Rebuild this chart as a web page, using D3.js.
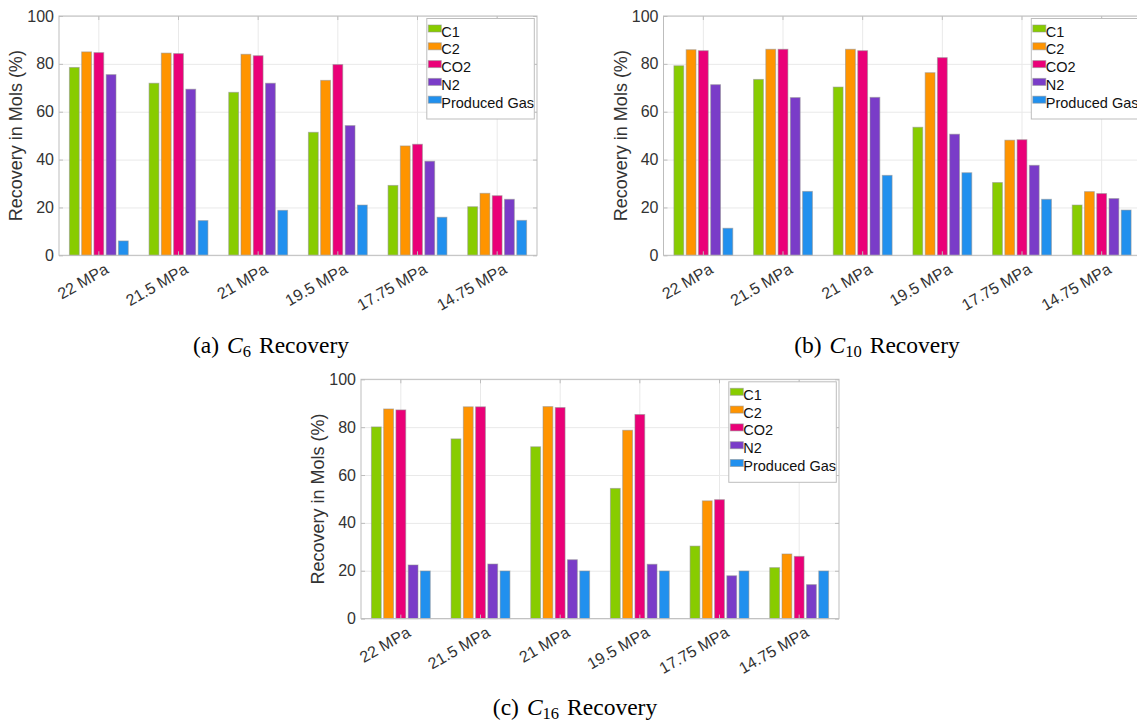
<!DOCTYPE html>
<html>
<head>
<meta charset="utf-8">
<script src="https://cdn.jsdelivr.net/npm/d3@7"></script>
<style>
  body { margin: 0; background: #fff; }
  svg { display: block; font-family: "Liberation Sans", Arial, sans-serif; }
</style>
</head>
<body>
<svg id="fig" width="1137" height="722"></svg>
<script>
// categories and series
const categories = ['22 MPa', '21.5 MPa', '21 MPa', '19.5 MPa', '17.75 MPa', '14.75 MPa'];
const seriesNames = ['C1', 'C2', 'CO2', 'N2', 'Produced Gas'];
const yTicks = [0, 20, 40, 60, 80, 100];

// recovery values, one row per series (C1, C2, CO2, N2, Produced Gas)
const c6Values = [
  [78.5, 71.9, 68.1, 51.4, 29.2, 20.3],
  [85.0, 84.5, 84.0, 73.1, 45.7, 25.9],
  [84.7, 84.3, 83.4, 79.7, 46.4, 24.9],
  [75.5, 69.4, 71.9, 54.2, 39.3, 23.4],
  [6.0, 14.5, 18.8, 21.0, 15.9, 14.6]
];
const c10Values = [
  [79.2, 73.5, 70.3, 53.5, 30.4, 21.0],
  [85.9, 86.1, 86.1, 76.3, 48.1, 26.6],
  [85.5, 86.1, 85.5, 82.6, 48.3, 25.8],
  [71.3, 65.9, 66.0, 50.6, 37.6, 23.7],
  [11.3, 26.7, 33.4, 34.5, 23.4, 18.9]
];
const c16Values = [
  [80.1, 75.1, 71.8, 54.4, 30.3, 21.3],
  [87.6, 88.5, 88.6, 78.7, 49.2, 27.0],
  [87.2, 88.5, 88.2, 85.3, 49.7, 26.0],
  [22.4, 22.8, 24.6, 22.7, 17.9, 14.2],
  [19.9, 19.9, 19.9, 19.9, 19.9, 19.9]
];

const colors = ['#88cc00', '#ff9400', '#ea0078', '#7a3cc8', '#2190ee'];

const svg = d3.select('#fig');
const plotW = 478, plotH = 239.3;
const groupWidth = 5 / 6.5;
const boxColor = '#bdbdbd', gridColor = '#e9e9e9', textColor = '#333';

function drawPanel(p) {
  const g = svg.append('g').attr('transform', `translate(${p.left},${p.top})`);

  const x = d3.scaleBand()
    .domain(categories)
    .range([0, plotW])
    .paddingInner(1 - groupWidth)
    .paddingOuter((1 - groupWidth) / 2);
  const xs = d3.scaleBand()
    .domain(seriesNames)
    .range([0, x.bandwidth()])
    .paddingInner(0.2)
    .paddingOuter(0.1);
  const y = d3.scaleLinear().domain([0, 100]).range([plotH, 0]);

  // grid
  g.append('g')
    .call(d3.axisLeft(y).tickValues(yTicks).tickSize(-plotW).tickFormat(''))
    .call(s => s.select('.domain').remove())
    .selectAll('line').attr('stroke', gridColor);
  g.append('g')
    .attr('transform', `translate(0,${plotH})`)
    .call(d3.axisBottom(x).tickSize(-plotH).tickFormat(''))
    .call(s => s.select('.domain').remove())
    .selectAll('line').attr('stroke', gridColor);

  // bars
  const rows = [];
  p.values.forEach((vals, si) => vals.forEach((v, ci) => rows.push({ s: seriesNames[si], si, c: categories[ci], v })));
  g.append('g')
    .selectAll('rect')
    .data(rows)
    .join('rect')
    .attr('x', d => x(d.c) + xs(d.s))
    .attr('y', d => y(d.v))
    .attr('width', xs.bandwidth())
    .attr('height', d => y(0) - y(d.v))
    .attr('fill', d => colors[d.si])
    .attr('stroke', '#8f8f8f')
    .attr('stroke-opacity', 0.55)
    .attr('stroke-width', 1);

  // inward ticks on all four sides
  const tl = 4;
  g.append('g').call(d3.axisLeft(y).tickValues(yTicks).tickSize(-tl).tickFormat(''));
  g.append('g').attr('transform', `translate(${plotW},0)`).call(d3.axisRight(y).tickValues(yTicks).tickSize(-tl).tickFormat(''));
  g.append('g').attr('transform', `translate(0,${plotH})`).call(d3.axisBottom(x).tickSize(-tl).tickFormat(''));
  g.append('g').call(d3.axisTop(x).tickSize(-tl).tickFormat(''));
  g.selectAll('.domain').remove();
  g.selectAll('.tick line').filter(function () { return this.getAttribute('stroke') !== gridColor; })
    .attr('stroke', boxColor);

  g.append('rect')
    .attr('width', plotW).attr('height', plotH)
    .attr('fill', 'none').attr('stroke', boxColor);

  // tick labels
  g.append('g').selectAll('text')
    .data(yTicks)
    .join('text')
    .attr('x', -5)
    .attr('y', d => y(d))
    .attr('dy', '0.35em')
    .attr('text-anchor', 'end')
    .attr('font-size', 16)
    .attr('fill', textColor)
    .text(d => d);

  g.append('g').selectAll('text')
    .data(categories)
    .join('text')
    .attr('transform', d => `translate(${x(d) + x.bandwidth() / 2 + 5},${plotH + 7}) rotate(-30)`)
    .attr('dy', '0.72em')
    .attr('text-anchor', 'end')
    .attr('font-size', 16)
    .attr('fill', textColor)
    .text(d => d);

  g.append('text')
    .attr('transform', `translate(-37,${plotH / 2}) rotate(-90)`)
    .attr('text-anchor', 'middle')
    .attr('font-size', 18)
    .attr('fill', textColor)
    .text('Recovery in Mols (%)');

  // legend
  const lw = 107.5, lh = 100.5;
  const lg = g.append('g').attr('transform', `translate(${plotW - 2.7 - lw},2.5)`);
  lg.append('rect').attr('width', lw).attr('height', lh).attr('fill', '#fff').attr('stroke', boxColor);
  const item = lg.selectAll('g.item')
    .data(seriesNames)
    .join('g')
    .attr('class', 'item')
    .attr('transform', (d, i) => `translate(0,${18 + i * 17.8})`);
  item.append('rect')
    .attr('x', 1.5).attr('y', -11.5).attr('width', 13).attr('height', 7)
    .attr('fill', (d, i) => colors[i])
    .attr('stroke', '#8f8f8f').attr('stroke-opacity', 0.55);
  item.append('text')
    .attr('x', 14.5)
    .attr('font-size', 14.5)
    .attr('fill', '#111')
    .text(d => d);

  // caption
  const cap = svg.append('text')
    .attr('x', p.capX).attr('y', p.capY)
    .attr('text-anchor', 'middle')
    .attr('font-family', '"Liberation Serif", "Times New Roman", serif')
    .attr('font-size', 23.5)
    .attr('fill', '#000');
  cap.append('tspan').text(`(${p.label})`);
  cap.append('tspan').attr('dx', 8).attr('font-style', 'italic').text('C');
  cap.append('tspan').attr('font-size', 16.5).attr('dy', 4).text(p.sub);
  cap.append('tspan').attr('dy', -4).attr('dx', 8).text('Recovery');
}

drawPanel({ left: 59, top: 16, values: c6Values, label: 'a', sub: '6', capX: 271, capY: 353 });
drawPanel({ left: 663.5, top: 16, values: c10Values, label: 'b', sub: '10', capX: 877, capY: 353 });
drawPanel({ left: 361, top: 379.3, values: c16Values, label: 'c', sub: '16', capX: 575, capY: 715 });
</script>
</body>
</html>
